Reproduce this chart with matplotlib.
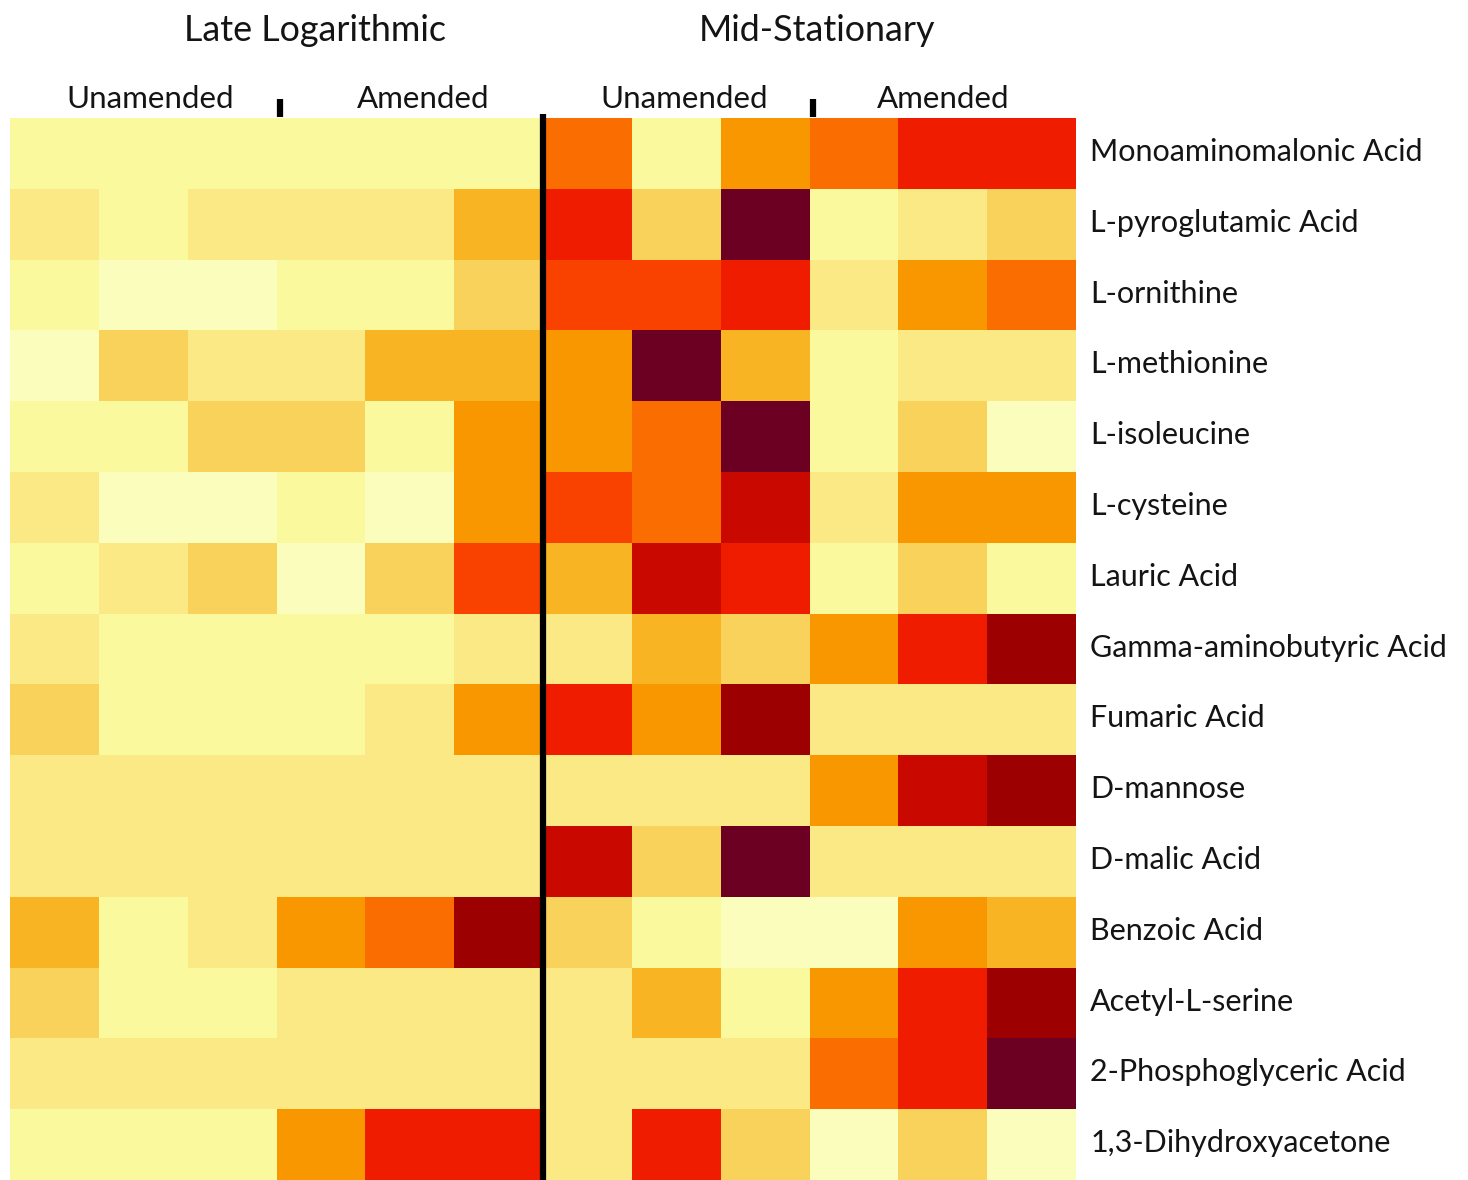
import matplotlib
matplotlib.use("Agg")
import matplotlib.pyplot as plt
from matplotlib.colors import ListedColormap, BoundaryNorm
import numpy as np

compounds = ["Monoaminomalonic Acid", "L-pyroglutamic Acid", "L-ornithine", "L-methionine",
             "L-isoleucine", "L-cysteine", "Lauric Acid", "Gamma-aminobutyric Acid",
             "Fumaric Acid", "D-mannose", "D-malic Acid", "Benzoic Acid",
             "Acetyl-L-serine", "2-Phosphoglyceric Acid", "1,3-Dihydroxyacetone"]
phases = ["Late Logarithmic", "Mid-Stationary"]
treatments = ["Unamended", "Amended"]

# intensity levels (0 = lowest, 11 = highest), 12 columns: Late Log (6) | Mid-Stat (6)
late_log = [
    [1, 1, 1, 1, 1, 1],
    [2, 1, 2, 2, 2, 4],
    [1, 0, 0, 1, 1, 3],
    [0, 3, 2, 2, 4, 4],
    [1, 1, 3, 3, 1, 5],
    [2, 0, 0, 1, 0, 5],
    [1, 2, 3, 0, 3, 7],
    [2, 1, 1, 1, 1, 2],
    [3, 1, 1, 1, 2, 5],
    [2, 2, 2, 2, 2, 2],
    [2, 2, 2, 2, 2, 2],
    [4, 1, 2, 5, 6, 10],
    [3, 1, 1, 2, 2, 2],
    [2, 2, 2, 2, 2, 2],
    [1, 1, 1, 5, 8, 8],
]
mid_stat = [
    [6, 1, 5, 6, 8, 8],
    [8, 3, 11, 1, 2, 3],
    [7, 7, 8, 2, 5, 6],
    [5, 11, 4, 1, 2, 2],
    [5, 6, 11, 1, 3, 0],
    [7, 6, 9, 2, 5, 5],
    [4, 9, 8, 1, 3, 1],
    [2, 4, 3, 5, 8, 10],
    [8, 5, 10, 2, 2, 2],
    [2, 2, 2, 5, 9, 10],
    [9, 3, 11, 2, 2, 2],
    [3, 1, 0, 0, 5, 4],
    [2, 4, 1, 5, 8, 10],
    [2, 2, 2, 6, 8, 11],
    [2, 8, 3, 0, 3, 0],
]

palette = ["#FAFDBC", "#FBF99D", "#FBE985", "#F9D25B", "#F8B422", "#F99700",
           "#FA6D00", "#F94200", "#EF1C00", "#C90800", "#9C0000", "#6B0023"]

data = np.hstack([np.array(late_log), np.array(mid_stat)])
nrows, ncols = data.shape

cmap = ListedColormap(palette)
norm = BoundaryNorm(np.arange(-0.5, len(palette) + 0.5, 1), cmap.N)

W, H = 1468, 1180
fig = plt.figure(figsize=(W / 100, H / 100), dpi=100)
ax = fig.add_axes([10 / W, 0, 1066 / W, 1062 / H])
ax.pcolormesh(np.arange(ncols + 1), np.arange(nrows + 1), data, cmap=cmap, norm=norm)
ax.set_xlim(0, ncols)
ax.set_ylim(nrows, 0)
ax.axis("off")

font = "Lato"
txt = "#141414"
# row labels
for i, name in enumerate(compounds):
    ax.text(ncols + 0.16, i + 0.607, name, ha="left", va="baseline", fontsize=22,
            family=font, color=txt, clip_on=False)

# phase headings and treatment sub-headings
half = ncols // 2
head_x = [3.43, 9.08]
sub_x = [[1.58, 4.65], [7.59, 10.51]]
for p, phase in enumerate(phases):
    x0 = p * half
    ax.text(head_x[p], -1.088, phase, ha="center", va="baseline",
            fontsize=25.8, family=font, color=txt, clip_on=False)
    for t, tr in enumerate(treatments):
        ax.text(sub_x[p][t], -0.141, tr, ha="center", va="baseline",
                fontsize=22.5, family=font, color=txt, clip_on=False)
    # small separator tick between treatments
    ax.plot([x0 + half / 2 + 0.04] * 2, [-0.27, -0.02], color="black", lw=4.5,
            solid_capstyle="butt", clip_on=False)

# thick divider between phases
ax.plot([half, half], [-0.05, nrows], color="black", lw=4.5, solid_capstyle="butt",
        clip_on=False)

fig.savefig("out.png", dpi=100, facecolor="white")
